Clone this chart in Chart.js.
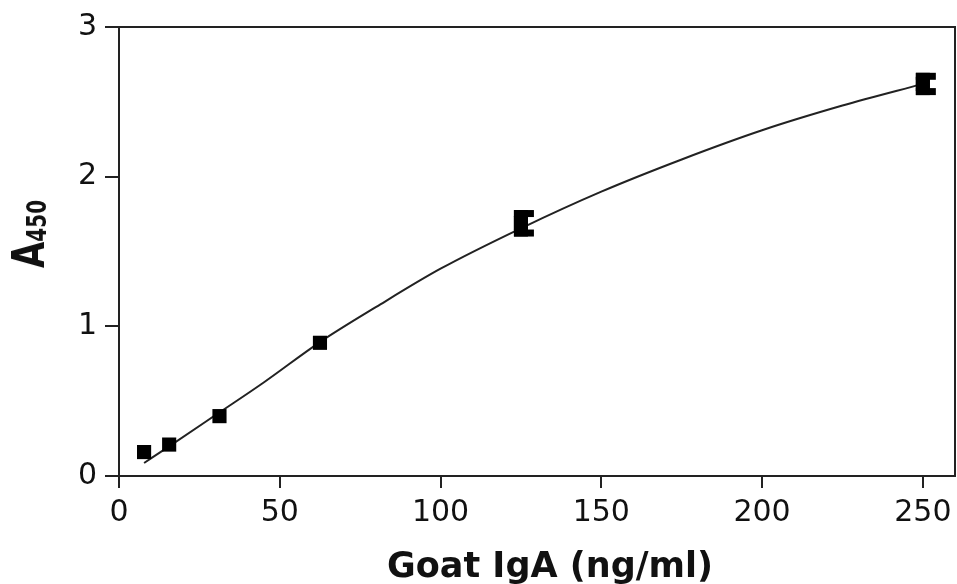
<!DOCTYPE html>
<html>
<head>
<meta charset="utf-8">
<script src="https://cdn.jsdelivr.net/npm/chart.js@4.4.1/dist/chart.umd.min.js"></script>
<style>
  html, body { margin: 0; padding: 0; background: #fff; }
  #wrap { position: relative; width: 957px; height: 584px; overflow: hidden; }
  #yTitle {
    position: absolute; left: 27.7px; top: 233.5px;
    transform: translate(-50%, -50%) rotate(-90deg) scale(1, 1.3);
    font: bold 34px "DejaVu Sans"; line-height: 1; white-space: nowrap; color: #111;
  }
  #yTitle sub { font-size: 20px; vertical-align: -2px; line-height: 1; }
  #xTitle {
    position: absolute; left: 550px; top: 565px;
    transform: translate(-50%, -50%);
    font: bold 35px "DejaVu Sans"; line-height: 1; white-space: nowrap; color: #111;
  }
</style>
</head>
<body>
<div id="wrap">
  <canvas id="chart" width="957" height="584"></canvas>
  <div id="yTitle">A<sub>450</sub></div>
  <div id="xTitle">Goat IgA (ng/ml)</div>
</div>
<script>
// ----- Data -----
const doseX = [7.8, 15.6, 31.25, 62.5, 125, 250];        // Goat IgA (ng/ml)
const meanA450 = [0.16, 0.21, 0.40, 0.89, 1.69, 2.62];
const errLow = [null, null, null, null, 1.60, 2.545];
const errHigh = [null, null, null, null, 1.777, 2.694];

// fitted curve
const fitX = [7.8, 15.6, 31.25, 45, 62.5, 80, 100, 125, 150, 175, 200, 225, 250];
const fitY = [0.087, 0.198, 0.425, 0.625, 0.895, 1.13, 1.385, 1.655, 1.90, 2.115, 2.31, 2.475, 2.62];

const xTicks = [0, 50, 100, 150, 200, 250];
const yTicks = [0, 1, 2, 3];

const ink = "#111";
const lineCol = "#222";

// error bars with caps (drawn through the scales)
const errorBars = {
  id: "errorBars",
  afterDatasetsDraw(chart) {
    const ctx = chart.ctx;
    const xs = chart.scales.x, ys = chart.scales.y;
    ctx.save();
    ctx.fillStyle = "#000";
    doseX.forEach((x, i) => {
      if (errLow[i] == null) return;
      const px = xs.getPixelForValue(x);
      const yHi = ys.getPixelForValue(errHigh[i]);
      const yLo = ys.getPixelForValue(errLow[i]);
      ctx.fillRect(px - 7, yHi, 14, yLo - yHi);   // bar
      ctx.fillRect(px - 7, yHi, 20, 7);           // top cap
      ctx.fillRect(px - 7, yLo - 7, 20, 7);       // bottom cap
    });
    ctx.restore();
  }
};

// closed frame (top + right edges)
const frame = {
  id: "frame",
  afterDraw(chart) {
    const { left, right, top, bottom } = chart.chartArea;
    const ctx = chart.ctx;
    ctx.save();
    ctx.strokeStyle = lineCol;
    ctx.lineWidth = 2;
    ctx.beginPath();
    ctx.moveTo(left, top);
    ctx.lineTo(right, top);
    ctx.lineTo(right, bottom);
    ctx.stroke();
    ctx.restore();
  }
};

const tickFont = { family: "DejaVu Sans", size: 30 };

new Chart(document.getElementById("chart").getContext("2d"), {
  type: "scatter",
  data: {
    datasets: [
      {
        label: "fit",
        data: fitX.map((x, i) => ({ x, y: fitY[i] })),
        showLine: true,
        borderColor: lineCol,
        borderWidth: 2,
        pointRadius: 0,
        cubicInterpolationMode: "monotone",
        order: 2
      },
      {
        label: "A450",
        data: doseX.map((x, i) => ({ x, y: meanA450[i] })),
        pointStyle: "rect",
        pointRadius: 10,
        backgroundColor: "#000",
        borderColor: "#000",
        borderWidth: 0,
        order: 1
      }
    ]
  },
  options: {
    responsive: false,
    animation: false,
    layout: { autoPadding: false, padding: { left: 0, right: 2, top: 27, bottom: 0 } },
    plugins: { legend: { display: false }, tooltip: { enabled: false } },
    scales: {
      x: {
        type: "linear",
        min: 0,
        max: 260,
        afterBuildTicks: s => { s.ticks = xTicks.map(v => ({ value: v })); },
        afterFit: s => { s.height = 108; s.paddingRight = 0; s.paddingLeft = 0; },
        border: { display: true, color: lineCol, width: 2 },
        grid: { drawOnChartArea: false, drawTicks: true, tickLength: 12, color: lineCol, lineWidth: 2 },
        ticks: { padding: 7, color: ink, font: tickFont, maxRotation: 0, autoSkip: false }
      },
      y: {
        min: 0,
        max: 3,
        afterBuildTicks: s => { s.ticks = yTicks.map(v => ({ value: v })); },
        afterFit: s => { s.width = 119; },
        border: { display: true, color: lineCol, width: 2 },
        grid: { drawOnChartArea: false, drawTicks: true, tickLength: 14, color: lineCol, lineWidth: 2 },
        ticks: { padding: 8, color: ink, font: tickFont }
      }
    }
  },
  plugins: [errorBars, frame]
});
</script>
</body>
</html>
